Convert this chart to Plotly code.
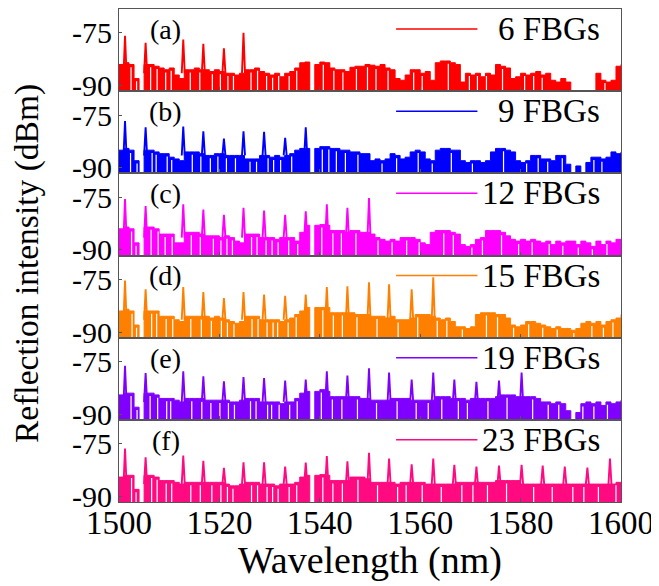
import plotly.graph_objects as go
from plotly.subplots import make_subplots

wavelength = list(range(1500, 1601))

floor_a = [-84, -83.5, -84, -88, -93, -84, -84, -84.5, -85, -85.5,
           -85, -87, -88, -85.5, -85.5, -85, -85.5, -85.5, -86, -85.5,
           -86, -86.5, -86.5, -87, -86.5, -85.5, -85.5, -85, -86, -86.5,
           -87, -86.5, -87.5, -86.5, -86, -85, -83.5, -83.3, -93, -84,
           -83.3, -83.5, -85, -85.5, -85.5, -86, -84.8, -84.5, -84.5, -84,
           -84.2, -84.5, -84, -85, -85.5, -88, -88.5, -87, -85.5, -85.5,
           -86.5, -86, -88.5, -83.5, -83, -83, -83.5, -84, -89, -86.5,
           -87, -86.5, -87.5, -86.5, -87, -84, -84.5, -85, -88, -87.5,
           -86.5, -87, -86.5, -86, -87, -86.5, -88.5, -89, -88, -89,
           -93, -93, -93, -93, -93, -86.5, -88.5, -89, -88.5, -84.5,
           -84]
floor_b = [-85, -84.5, -85, -88, -93, -85, -85, -85.5, -86, -86,
           -87, -87.5, -88, -85.5, -85.5, -85.5, -86, -86.5, -86.5, -86,
           -86, -86.5, -86.5, -86.5, -86.5, -87.5, -87.5, -87.5, -86.5, -86.5,
           -87, -86.5, -87, -86.5, -86, -85, -84.5, -84.5, -93, -84.5,
           -84, -84, -84.5, -84.5, -85, -85, -85.5, -85.5, -86, -86,
           -88, -87.5, -88, -87.5, -86, -86.5, -87.5, -87, -85.5, -85,
           -85.5, -87.5, -88, -85, -84.5, -84.5, -85, -85, -88, -88.5,
           -88, -88, -88.5, -88, -85.5, -84.5, -84.5, -85, -85.5, -88,
           -88.5, -88, -86.5, -86.5, -87.5, -87.5, -88, -86.5, -86.5, -89,
           -93, -89.5, -93, -88.5, -87, -87, -87.5, -87, -85.5, -86,
           -85.5]
floor_c = [-84, -83.5, -84, -88, -93, -83.5, -83.5, -84, -85.5, -85.5,
           -85.5, -88, -88, -85, -85, -85, -85.5, -86, -86, -86,
           -86.5, -86, -86.5, -87.5, -88, -85.5, -85.5, -85.5, -86.5, -86.5,
           -86.5, -87, -86.5, -86.5, -86.5, -87.5, -85, -83, -93, -83,
           -82.8, -83, -84.5, -84.5, -84.5, -85, -84.5, -84.5, -85, -85,
           -85.5, -86.5, -87, -87.5, -87, -87.5, -86.5, -86.5, -86.5, -87,
           -88, -88.5, -85, -84.5, -84.5, -84.5, -85, -85.5, -88.5, -89,
           -88.5, -87, -86.5, -84.5, -84.5, -84.5, -85, -86, -87, -87.5,
           -87, -87.5, -87, -87.5, -88, -87.5, -88.5, -87.5, -88, -87.5,
           -87.5, -88.5, -87.5, -88, -89, -87.5, -88.5, -87.5, -88, -87,
           -87.5]
floor_d = [-84, -83.5, -84, -88, -93, -84, -84, -84, -85.5, -85.5,
           -85.5, -86.5, -87, -85.5, -85.5, -85.5, -85.5, -85.5, -86, -85.5,
           -86, -86.5, -87, -87.5, -87, -85.5, -85.5, -85.5, -86.5, -86.5,
           -86.5, -86.5, -87, -86.5, -86, -85, -84, -83, -93, -83,
           -83, -83, -84.5, -84.5, -84.5, -84.5, -84.5, -85, -85, -85,
           -85.5, -85.5, -85.5, -86, -85.5, -86.5, -86.5, -86.5, -86, -85,
           -85, -85, -85.5, -86, -86.5, -86, -87, -88.5, -88.5, -89,
           -88.5, -85, -84.5, -84.5, -84.5, -85, -85, -86, -88, -88.5,
           -88, -87, -87, -87.5, -88, -88.5, -89, -88.5, -89, -89,
           -89.5, -89, -87.5, -87, -87.5, -87, -88, -87, -86.5, -86,
           -85]
floor_e = [-84.5, -84, -84, -88, -93, -84, -84, -84.5, -85.5, -85.5,
           -85.5, -86, -86.5, -85.5, -85.5, -85.5, -85.5, -86, -86, -86,
           -86, -86, -86.5, -86.5, -86, -85.5, -85.5, -85.5, -86.5, -86.5,
           -86.5, -86.5, -87, -86.5, -86.5, -85.5, -84, -83.5, -93, -83.5,
           -83, -83.5, -85, -85, -85, -85, -85, -85, -85.5, -85.5,
           -86, -86, -86, -86, -85.5, -85.5, -85.5, -85.5, -86, -86,
           -86, -86, -86, -85, -85, -85, -85.5, -85.5, -85.5, -86,
           -85.5, -85.5, -85.5, -85.5, -85.5, -85, -84.5, -84.5, -84.5, -85,
           -85, -85, -85, -85.5, -86.5, -86.5, -87, -86.5, -87, -89,
           -93, -89.5, -87, -86.5, -87, -86.5, -87.5, -86.5, -87, -86.5,
           -86]
floor_f = [-84.5, -84, -84, -88, -93, -84, -84, -84.5, -85.5, -85.5,
           -85.5, -86, -86.5, -86, -86, -86, -86, -86, -86, -86,
           -86, -86.5, -87, -87, -86.5, -86, -86, -86, -86.5, -86.5,
           -86.5, -87, -86.5, -86.5, -86.5, -86, -84.5, -84, -93, -84,
           -83.8, -84, -85.5, -85.5, -85.5, -85.5, -84.5, -84.5, -84.5, -85,
           -86, -86, -86, -86, -86, -86.5, -86, -86, -86, -86,
           -86, -86.5, -86.5, -86.5, -86.5, -86.5, -86.5, -86, -86, -86,
           -86, -86, -86, -86, -86, -85.5, -85.5, -85.5, -85.5, -85.5,
           -86.5, -86.5, -86.5, -86.5, -86.5, -86.5, -86.5, -86.5, -86.5, -86.5,
           -86.5, -86.5, -86.5, -86.5, -86.5, -86.5, -86.5, -86.5, -86.5, -86,
           -86]

peak_wl = [1501.2, 1505.3, 1512.8, 1516.8, 1520.9, 1524.8, 1528.9, 1533.1,
           1537.2, 1541.4, 1545.5, 1549.8, 1553.8, 1558.3, 1562.6, 1566.8,
           1571.2, 1575.7, 1580.2, 1584.4, 1588.8, 1593.3, 1597.8]
peak_db_a = [-75.8, -77.8, -76.9, -78.1, -79.4, -75.0]
peak_db_b = [-76.7, -78.5, -78.3, -79.6, -81.7, -79.6, -79.8, -81.5, -78.5]
peak_db_c = [-75.5, -77.5, -77.0, -78.5, -80.0, -78.0, -78.8, -80.0, -79.0,
             -77.0, -78.0, -75.2]
peak_db_d = [-75.3, -77.8, -77.2, -78.6, -80.3, -78.6, -79.3, -79.7, -79.3,
             -77.2, -77.0, -75.8, -76.4, -77.8, -74.4]
peak_db_e = [-76.2, -78.3, -77.8, -79.2, -80.6, -79.4, -79.7, -80.4, -80.1,
             -77.8, -79.0, -76.9, -78.1, -80.1, -78.1, -80.1, -80.8, -80.4, -78.1]
peak_db_f = [-76.4, -78.9, -78.4, -79.9, -81.9, -80.3, -80.3, -81.5, -80.4,
             -78.5, -80.0, -77.6, -79.2, -80.9, -79.2, -81.0, -81.5, -81.2,
             -81.0, -81.2, -81.5, -81.8, -79.2]

gaps_a = [1502.4, 1503.5, 1506.3, 1507.6, 1509.3, 1510.4, 1514.2, 1516.1, 1518.6,
          1520.2, 1521.7, 1522.8, 1526.3, 1527.6, 1529.4, 1530.6, 1531.8, 1533.9,
          1535.4, 1540.7, 1542.8, 1544.6, 1547.3, 1549.5, 1551.2, 1553.6, 1558.7,
          1560.4, 1565.6, 1569.8, 1571.4, 1573.2, 1576.4, 1580.8, 1582.6, 1584.3,
          1596.8]
gaps_b = [1502.3, 1503.6, 1506.6, 1507.4, 1509.6, 1510.5, 1514.6, 1516.3, 1518.2,
          1519.7, 1521.4, 1523.2, 1526.1, 1527.4, 1529.7, 1530.8, 1532.2, 1534.4,
          1540.5, 1541.8, 1543.3, 1545.1, 1547.6, 1552.4, 1555.3, 1559.6, 1562.4,
          1566.2, 1570.4, 1576.6, 1581.2, 1583.5, 1585.4, 1588.3, 1594.6, 1596.2]
gaps_c = [1502.5, 1503.4, 1506.4, 1507.8, 1509.2, 1510.6, 1514.4, 1516.2, 1518.8,
          1520.3, 1521.5, 1522.6, 1526.4, 1527.5, 1529.3, 1530.5, 1531.7, 1533.8,
          1535.6, 1540.4, 1542.6, 1544.3, 1547.2, 1551.6, 1554.4, 1557.3, 1559.8,
          1564.7, 1566.6, 1570.3, 1572.4, 1576.2, 1579.6, 1582.3, 1585.7, 1588.4,
          1591.5, 1594.3, 1597.2]
gaps_d = [1502.6, 1503.5, 1506.5, 1507.5, 1509.4, 1510.7, 1514.3, 1516.4, 1518.4,
          1520.4, 1521.6, 1522.9, 1526.5, 1527.7, 1529.5, 1530.7, 1531.6, 1533.7,
          1535.3, 1540.6, 1542.7, 1544.5, 1547.4, 1551.4, 1555.6, 1559.5, 1563.4,
          1565.3, 1568.4, 1573.2, 1575.4, 1578.6, 1581.6, 1584.4, 1587.3, 1590.6,
          1594.2, 1596.5, 1598.4]
gaps_e = [1502.4, 1503.6, 1506.2, 1507.7, 1509.5, 1510.3, 1514.5, 1516.5, 1518.3,
          1520.1, 1521.8, 1523.0, 1526.2, 1527.3, 1529.6, 1530.4, 1531.9, 1534.0,
          1535.5, 1540.3, 1542.5, 1544.4, 1547.5, 1551.3, 1555.4, 1559.2, 1561.6,
          1564.3, 1567.6, 1569.4, 1573.5, 1577.3, 1582.4, 1585.5, 1587.6, 1592.4,
          1594.6, 1597.3]
gaps_f = [1502.5, 1503.4, 1506.5, 1507.6, 1509.4, 1510.5, 1514.3, 1516.2, 1518.5,
          1520.3, 1521.6, 1522.7, 1526.4, 1527.6, 1529.5, 1530.6, 1531.7, 1533.9,
          1535.4, 1540.6, 1542.6, 1544.5, 1547.6, 1551.5, 1555.5, 1557.2, 1560.4,
          1564.2, 1568.3, 1570.5, 1573.4, 1577.2, 1582.6, 1586.3, 1590.4, 1592.6,
          1595.5, 1599.0]

panel_labels = ["(a)", "(b)", "(c)", "(d)", "(e)", "(f)"]
legend_labels = ["6 FBGs", "9 FBGs", "12 FBGs", "15 FBGs", "19 FBGs", "23 FBGs"]
colors = ["#ff0000", "#0000ff", "#ff00ff", "#ff8000", "#8000ff", "#ff0a80"]
x_ticks = [1500, 1520, 1540, 1560, 1580, 1600]
y_ticks = [-90, -75]
y_tick_text = ["-90", "-75"]

floors = [floor_a, floor_b, floor_c, floor_d, floor_e, floor_f]
peak_dbs = [peak_db_a, peak_db_b, peak_db_c, peak_db_d, peak_db_e, peak_db_f]
gap_sets = [gaps_a, gaps_b, gaps_c, gaps_d, gaps_e, gaps_f]

FONT = "Liberation Serif, Times New Roman, serif"
Y_RANGE = [-91.6, -68.2]
BASE = -95

fig = make_subplots(rows=6, cols=1, shared_xaxes=True, vertical_spacing=0)

for i in range(6):
    r = i + 1
    c = colors[i]
    fl = floors[i]
    fig.add_trace(go.Scatter(x=[wavelength[0], wavelength[-1]], y=[BASE, BASE],
                             mode="lines", line=dict(width=0, color=c),
                             hoverinfo="skip", showlegend=False), row=r, col=1)
    fig.add_trace(go.Scatter(x=wavelength, y=fl, mode="lines",
                             line=dict(color=c, width=1, shape="hv"),
                             fill="tonexty", fillcolor=c, showlegend=False),
                  row=r, col=1)
    gx, gy = [], []
    for g in gap_sets[i]:
        top = fl[int(g) - wavelength[0]] - 0.8
        gx += [g, g, None]
        gy += [BASE, top, None]
    fig.add_trace(go.Scatter(x=gx, y=gy, mode="lines",
                             line=dict(color="white", width=1.2),
                             hoverinfo="skip", showlegend=False), row=r, col=1)
    px, py = [], []
    for w, h in zip(peak_wl, peak_dbs[i]):
        px += [w - 0.3, w, w + 0.3, None]
        py += [-86.5, h, -86.5, None]
    fig.add_trace(go.Scatter(x=px, y=py, mode="lines",
                             line=dict(color=c, width=1.9),
                             showlegend=False), row=r, col=1)

    xref = "x" if r == 1 else f"x{r}"
    yref = "y" if r == 1 else f"y{r}"
    fig.add_annotation(x=1509.3, y=-74.0, xref=xref, yref=yref, text=panel_labels[i],
                       showarrow=False, xanchor="center", yanchor="middle",
                       font=dict(family=FONT, size=28, color="black"))
    fig.add_shape(type="line", x0=1555.2, x1=1571.4, y0=-73.9, y1=-73.9,
                  xref=xref, yref=yref, line=dict(color=c, width=1.5))
    fig.add_annotation(x=1596.2, y=-73.9, xref=xref, yref=yref, text=legend_labels[i],
                       showarrow=False, xanchor="right", yanchor="middle",
                       font=dict(family=FONT, size=33, color="black"))

fig.update_xaxes(range=[1500, 1600], tickvals=x_ticks, ticks="inside", ticklen=4,
                 tickcolor="#555", showline=True, mirror=True, linecolor="#555",
                 linewidth=1, showgrid=False, zeroline=False,
                 tickfont=dict(family=FONT, size=33, color="black"))
fig.update_xaxes(ticklabelstandoff=-9, row=6, col=1)
fig.update_yaxes(range=Y_RANGE, tickvals=y_ticks, ticktext=y_tick_text, ticks="inside",
                 ticklen=3, tickcolor="#555", showline=True, mirror=True,
                 linecolor="#555", linewidth=1, showgrid=False, zeroline=False,
                 tickfont=dict(family=FONT, size=30, color="black"))

# page body adds an 8 px offset; figure coordinates below compensate for it
fig.add_annotation(x=0.5, y=-0.119, xref="paper", yref="paper", text="Wavelength (nm)",
                   showarrow=False, xanchor="center", yanchor="middle",
                   font=dict(family=FONT, size=38, color="black"))
fig.add_annotation(x=-0.182, y=0.484, xref="paper", yref="paper",
                   text="Reflection intensity (dBm)", textangle=-90,
                   showarrow=False, xanchor="center", yanchor="middle",
                   font=dict(family=FONT, size=33.5, color="black"))

fig.update_layout(width=651, height=578, margin=dict(l=111, r=38, t=1, b=84),
                  plot_bgcolor="white", paper_bgcolor="white", showlegend=False)

fig.write_html("out.html")
